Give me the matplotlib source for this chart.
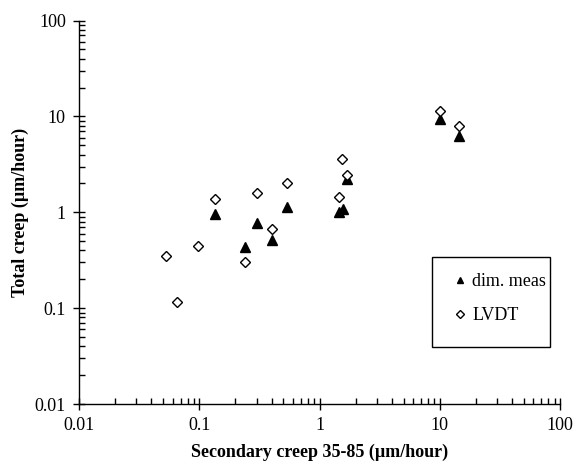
import numpy as np
from matplotlib import pyplot as plt
from matplotlib import ticker
from matplotlib.patches import Rectangle

# secondary creep 35-85 (x) vs total creep (y), both in um/hour
dimX = [0.134, 0.242, 0.30, 0.406, 0.54, 1.44, 1.56, 1.70, 10.0, 14.5]
dimY = [0.95, 0.43, 0.77, 0.515, 1.13, 1.0, 1.09, 2.23, 9.5, 6.2]

lvdtX = [0.053, 0.065, 0.098, 0.134, 0.242, 0.30, 0.406, 0.54, 1.44, 1.55, 1.68, 10.0, 14.5]
lvdtY = [0.347, 0.116, 0.44, 1.36, 0.30, 1.58, 0.67, 2.0, 1.43, 3.61, 2.43, 11.5, 8.0]

plt.rcParams['font.family'] = ['Liberation Serif', 'DejaVu Serif']

fig = plt.figure(figsize=(5.78, 4.63), dpi=100)
ax = fig.add_axes([0.1367, 0.1274, 0.8322, 0.8283])

ax.plot(dimX, dimY, linestyle='none', marker='^', markersize=6.5,
        color='black', label='dim. meas', clip_on=False)
ax.plot(lvdtX, lvdtY, linestyle='none', marker='D', markersize=5.2,
        markerfacecolor='white', markeredgecolor='black', markeredgewidth=1.0,
        label='LVDT', clip_on=False)

ax.set_xscale('log')
ax.set_yscale('log')
ax.set_xlim(0.01, 100)
ax.set_ylim(0.01, 100)

ax.spines['top'].set_visible(False)
ax.spines['right'].set_visible(False)
for s in ['left', 'bottom']:
    ax.spines[s].set_linewidth(1.0)

ax.xaxis.set_major_locator(ticker.LogLocator(base=10))
ax.yaxis.set_major_locator(ticker.LogLocator(base=10))
ax.xaxis.set_minor_locator(ticker.LogLocator(base=10, subs=np.arange(2, 10)))
ax.yaxis.set_minor_locator(ticker.LogLocator(base=10, subs=np.arange(2, 10)))
ax.xaxis.set_minor_formatter(ticker.NullFormatter())
ax.yaxis.set_minor_formatter(ticker.NullFormatter())

fmt = ticker.FuncFormatter(lambda v, p: ('%g' % v))
ax.xaxis.set_major_formatter(fmt)
ax.yaxis.set_major_formatter(fmt)

ax.tick_params(which='major', direction='inout', length=9, width=1.0,
               labelsize=13)
ax.tick_params(axis='x', which='major', pad=5)
ax.tick_params(axis='y', which='major', pad=5)
ax.tick_params(which='minor', direction='in', length=4, width=1.0)

ax.set_xlabel('Secondary creep 35-85 (µm/hour)', fontsize=13,
              fontweight='bold', labelpad=7)
ax.set_ylabel('Total creep (µm/hour)', fontsize=13,
              fontweight='bold', labelpad=4)

# legend box drawn by hand, entries placed inside it
ax.add_patch(Rectangle((0.7333, 0.1494), 0.246, 0.2347, transform=ax.transAxes,
                       facecolor='white', edgecolor='black', linewidth=1.0,
                       zorder=4))
leg = ax.legend(loc='upper left', bbox_to_anchor=(0.774, 0.342),
                numpoints=1, fontsize=13, frameon=False,
                borderpad=0, labelspacing=0.95, handlelength=1.0,
                handletextpad=0.15, markerscale=0.75, borderaxespad=0)
leg.set_zorder(5)

plt.savefig('out.png', dpi=100)
